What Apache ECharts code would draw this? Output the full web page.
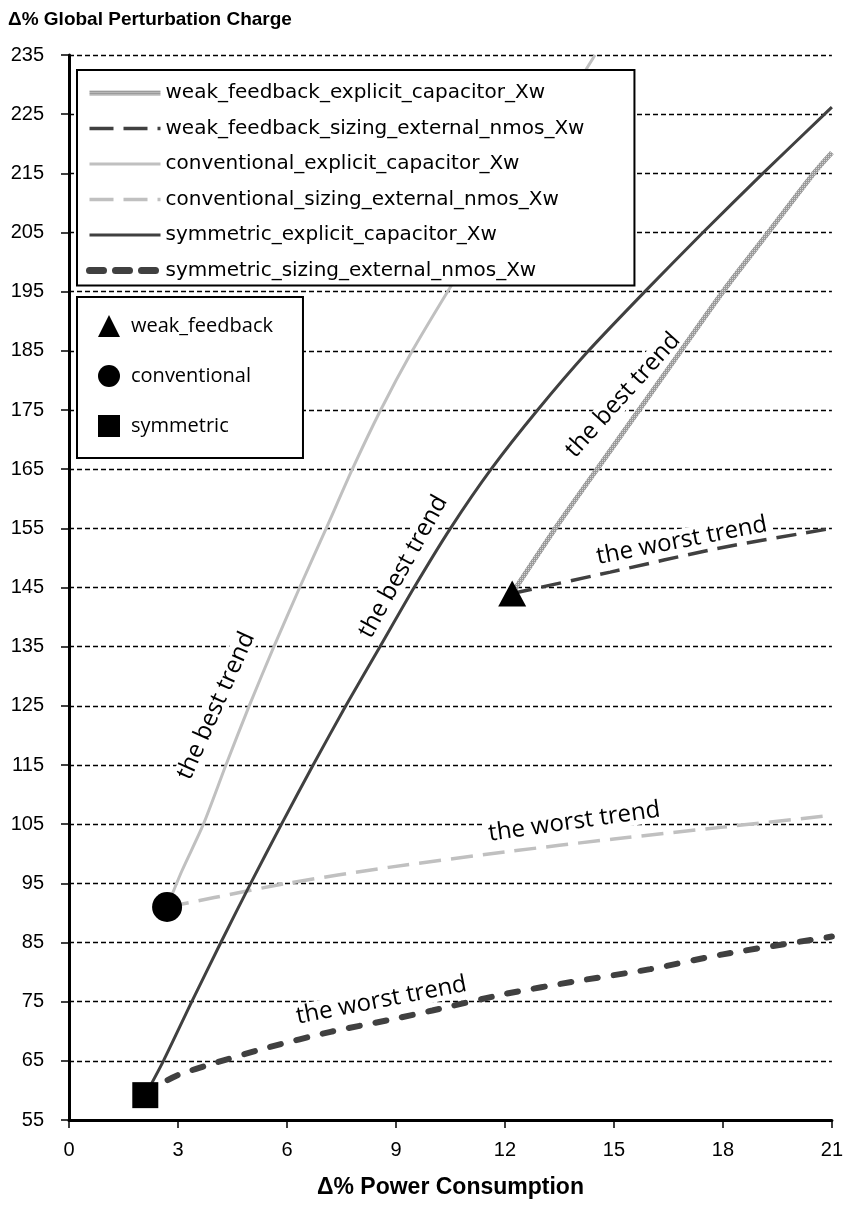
<!DOCTYPE html>
<html>
<head>
<meta charset="utf-8">
<script src="https://cdn.jsdelivr.net/npm/echarts@6/dist/echarts.min.js"></script>
<style>
html,body{margin:0;padding:0;background:#fff;}
#chart{width:846px;height:1207px;}
</style>
</head>
<body>
<div id="chart"></div>
<script>
// ---------- data ----------
const xTicks = [0, 3, 6, 9, 12, 15, 18, 21];
const yTicks = [55, 65, 75, 85, 95, 105, 115, 125, 135, 145, 155, 165, 175, 185, 195, 205, 215, 225, 235];

const weakExplicit = [[12.2,144],[13.5,156],[15,169],[16.5,182],[18,195],[19.25,205],[20.5,215],[21,218.5]];
const weakSizing = [[12.2,144],[14.9,147.6],[17.85,151.6],[21,155]];
const convExplicit = [[2.7,91],[3.1,97],[3.7,105],[4.32,115],[4.96,125],[5.64,135],[6.35,145],[7.08,155],[7.8,165],[8.58,175],[9.45,185],[10.42,195],[11.43,205],[12.45,215],[13.47,225],[14.48,235]];
const convSizing = [[2.7,91],[4,92.6],[6,95],[8.8,97.7],[12,100.3],[15,102.5],[18,104.5],[21,106.5]];
const symExplicit = [[2.1,59.2],[2.6,65],[3.38,75],[4.18,85],[5.0,95],[5.85,105],[6.72,115],[7.62,125],[8.56,135],[9.5,145],[10.5,155],[11.62,165],[12.9,175],[14.3,185],[15.85,195],[17.45,205],[19.1,215],[20.8,225],[21,226.2]];
const symSizing = [[2.1,59.2],[2.5,61],[3,62.6],[4,64.6],[5.5,67.3],[7.2,69.9],[8.8,71.9],[10,73.5],[12,76.3],[14,78.5],[16,80.5],[18,83],[21,86]];

const lineNames = [
  'weak_feedback_explicit_capacitor_Xw',
  'weak_feedback_sizing_external_nmos_Xw',
  'conventional_explicit_capacitor_Xw',
  'conventional_sizing_external_nmos_Xw',
  'symmetric_explicit_capacitor_Xw',
  'symmetric_sizing_external_nmos_Xw'
];
const markerNames = ['weak_feedback', 'conventional', 'symmetric'];
const markerPoints = [[12.2,144],[2.7,91],[2.1,59.2]];

const annotationTexts = ['the best trend','the best trend','the best trend','the worst trend','the worst trend','the worst trend'];
const annotationAnchors = [[4.05,125],[9.2,148.5],[15.25,177.5],[16.87,152.9],[13.91,105.4],[8.6,75.2]];

// ---------- styles / layout ----------
const annotationAngles = [66, 61, 48, 11, 8, 11];

function makeHatch() {
  const c = document.createElement('canvas');
  c.width = 4; c.height = 4;
  const g = c.getContext('2d');
  g.fillStyle = '#9a9a9a'; g.fillRect(0,0,4,4);
  g.fillStyle = '#d6d6d6';
  g.fillRect(0,0,1,1); g.fillRect(2,2,1,1); g.fillRect(2,0,1,1); g.fillRect(0,2,1,1);
  return c;
}
const hatch = {image: makeHatch(), repeat: 'repeat'};

const lineStyles = [
  {color: hatch, width: 5, type: 'solid'},
  {color: '#404040', width: 3.5, type: [20, 10]},
  {color: '#c0c0c0', width: 3, type: 'solid'},
  {color: '#c0c0c0', width: 3.5, type: [22, 10]},
  {color: '#404040', width: 3, type: 'solid'},
  {color: '#404040', width: 6, type: [11, 16], cap: 'round'}
];
const legendLineStyles = [
  {color: hatch, width: 5, type: 'solid'},
  {color: '#404040', width: 3.5, type: [24, 10]},
  {color: '#c0c0c0', width: 3, type: 'solid'},
  {color: '#c0c0c0', width: 3.5, type: [24, 10]},
  {color: '#404040', width: 3, type: 'solid'},
  {color: '#404040', width: 7, type: [14, 12], cap: 'round'}
];
const lineData = [weakExplicit, weakSizing, convExplicit, convSizing, symExplicit, symSizing];
const markerSymbols = ['triangle', 'circle', 'rect'];
const markerSizes = [[28, 26], 30, 26];

const tickFont = "'Liberation Sans Narrow','Arial Narrow','Liberation Sans',Arial,sans-serif";

const series = [];
lineNames.forEach((n, i) => {
  series.push({
    name: n, type: 'line', data: lineData[i], showSymbol: false, symbol: 'none',
    smooth: 0.25, lineStyle: lineStyles[i],
    itemStyle: {color: typeof lineStyles[i].color === 'string' ? lineStyles[i].color : '#9a9a9a'},
    z: 3, animation: false, clip: true
  });
});
markerNames.forEach((n, i) => {
  series.push({
    name: n, type: 'scatter', data: [markerPoints[i]], symbol: markerSymbols[i],
    symbolSize: markerSizes[i], itemStyle: {color: '#000', opacity: 1}, z: 6, animation: false
  });
});

const chart = echarts.init(document.getElementById('chart'), null, {renderer: 'canvas'});
const option = {
  animation: false,
  backgroundColor: '#fff',
  title: {
    text: 'Δ% Global Perturbation Charge', left: 8, top: 10, padding: 0,
    textStyle: {fontFamily: 'Liberation Sans, Arial, sans-serif', fontWeight: 'bold', fontSize: 19, color: '#000'}
  },
  grid: {left: 69, right: 11, top: 55, bottom: 87, containLabel: false},
  xAxis: {
    type: 'value', min: xTicks[0], max: xTicks[xTicks.length - 1], interval: xTicks[1] - xTicks[0],
    name: 'Δ% Power Consumption', nameLocation: 'middle', nameGap: 56,
    nameTextStyle: {fontFamily: tickFont, fontWeight: 'bold', fontSize: 23, color: '#000'},
    axisLine: {show: true, onZero: false, lineStyle: {color: '#000', width: 3}},
    axisTick: {show: true, inside: false, length: 8, lineStyle: {color: '#000', width: 1.5}},
    axisLabel: {margin: 20, fontFamily: tickFont, fontSize: 20, color: '#000'},
    splitLine: {show: false}
  },
  yAxis: {
    type: 'value', min: yTicks[0], max: yTicks[yTicks.length - 1], interval: yTicks[1] - yTicks[0],
    axisLine: {show: true, onZero: false, lineStyle: {color: '#000', width: 3}},
    axisTick: {show: true, inside: false, length: 8, lineStyle: {color: '#000', width: 1.5}},
    axisLabel: {margin: 25, fontFamily: tickFont, fontSize: 20, color: '#000'},
    splitLine: {show: true, lineStyle: {color: '#000', width: 1.3, type: [5, 3]}}
  },
  legend: [
    {
      data: lineNames.map((n, i) => ({name: n, lineStyle: legendLineStyles[i], itemStyle: {opacity: 0}})),
      orient: 'vertical', left: 77, top: 70,
      padding: [13, 50, 5, 9], itemWidth: 71, itemHeight: 14, itemGap: 15.5,
      backgroundColor: '#fff', borderColor: '#000', borderWidth: 2, borderRadius: 0,
      selectedMode: false,
      textStyle: {fontFamily: 'DejaVu Sans, sans-serif', fontSize: 20, color: '#000'}
    },
    {
      data: markerNames, orient: 'vertical', left: 77, top: 297,
      padding: [18, 30, 21, 21], itemWidth: 22, itemHeight: 22, itemGap: 28,
      backgroundColor: '#fff', borderColor: '#000', borderWidth: 2, borderRadius: 0,
      selectedMode: false,
      textStyle: {fontFamily: "'Open Sans', sans-serif", fontSize: 20, color: '#000', padding: [0, 0, 0, 6]}
    }
  ],
  series: series
};
chart.setOption(option);

// annotations placed at data coordinates
const graphics = annotationTexts.map((t, i) => {
  const p = chart.convertToPixel({gridIndex: 0}, annotationAnchors[i]);
  return {
    type: 'text', x: p[0], y: p[1], rotation: annotationAngles[i] * Math.PI / 180, z: 1,
    style: {
      text: t, fontFamily: "'Open Sans', sans-serif", fontSize: 24, fill: '#000',
      align: 'center', verticalAlign: 'middle',
      backgroundColor: '#fff', padding: [0, 4, 0, 4]
    }
  };
});
chart.setOption({graphic: graphics});
</script>
</body>
</html>
